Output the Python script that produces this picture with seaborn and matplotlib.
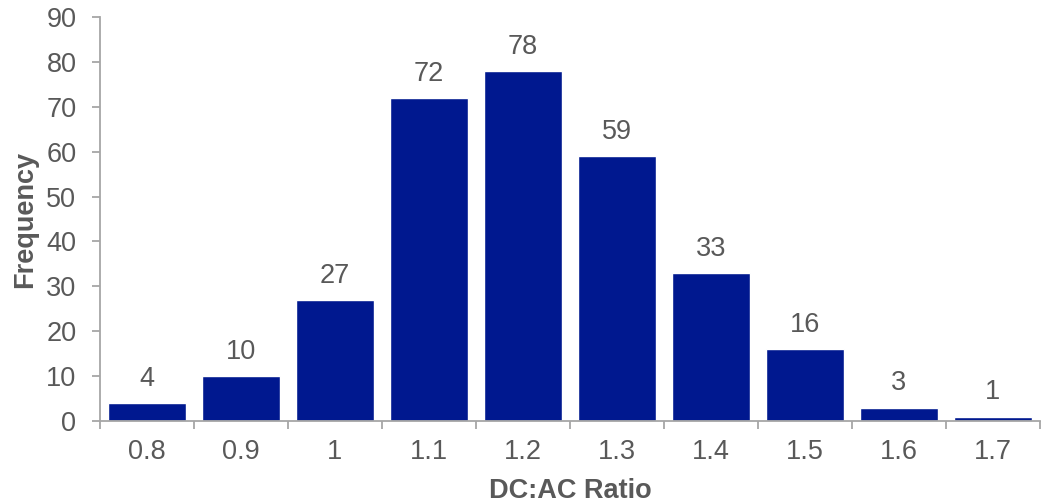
import matplotlib
matplotlib.use("Agg")
import matplotlib.pyplot as plt
import seaborn as sns
import pandas as pd
import numpy as np
from matplotlib.ticker import FixedLocator

categories = ["0.8", "0.9", "1", "1.1", "1.2", "1.3", "1.4", "1.5", "1.6", "1.7"]
frequency = [4, 10, 27, 72, 78, 59, 33, 16, 3, 1]

sns.set_theme(style="white")
plt.rcParams['font.family'] = ['Liberation Sans', 'DejaVu Sans']

df = pd.DataFrame({"ratio": categories, "freq": frequency})

fig = plt.figure(figsize=(10.46, 5.04), dpi=100)
ax = fig.add_axes([0.0956, 0.1647, 0.8984, 0.8016])

sns.barplot(data=df, x="ratio", y="freq", order=categories, color="#00188F",
            saturation=1, width=0.83, ax=ax)

gray = "#A6A6A6"
txt = "#595959"
fs = 19.5
for sp in ["top", "right"]:
    ax.spines[sp].set_visible(False)
for sp in ["left", "bottom"]:
    ax.spines[sp].set_color(gray)
    ax.spines[sp].set_linewidth(1.3)

ax.set_xlim(-0.5, len(categories) - 0.5)
ax.set_ylim(0, 90)
ax.set_yticks(np.arange(0, 91, 10))
ax.tick_params(axis="y", direction="out", length=6, width=1.3, color=gray,
               labelsize=fs, labelcolor=txt, pad=11, left=True)
ax.tick_params(axis="x", which="major", length=0, labelsize=fs, labelcolor=txt, pad=13)
ax.xaxis.set_minor_locator(FixedLocator(np.arange(-0.5, len(categories), 1.0)))
ax.tick_params(axis="x", which="minor", direction="out", length=6, width=1.3,
               color=gray, bottom=True)

for i, v in enumerate(frequency):
    ax.annotate(str(v), (i, v), xytext=(0, 8), textcoords="offset points",
                ha="center", va="bottom", fontsize=fs, color=txt)

ax.set_xlabel("DC:AC Ratio", fontsize=fs, fontweight="bold", color=txt, labelpad=9)
ax.set_ylabel("Frequency", fontsize=fs, fontweight="bold", color=txt, labelpad=6)

fig.savefig("out.png", dpi=100)
